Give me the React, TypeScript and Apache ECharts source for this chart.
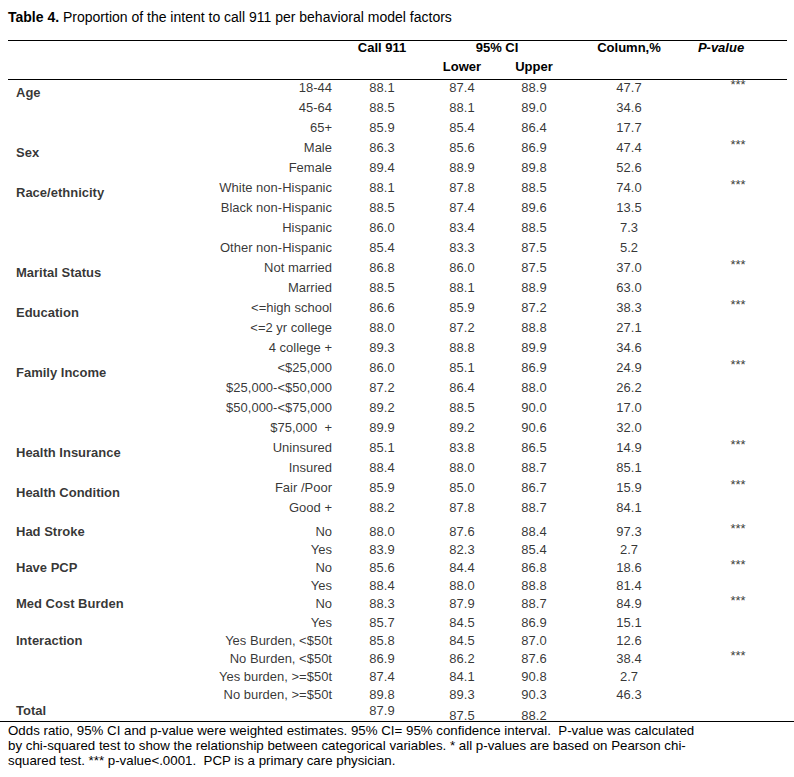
import React, { useEffect, useRef } from "react";
import * as echarts from "echarts";

// ---------- data ----------
const groupNames = ["Age", "Sex", "Race/ethnicity", "Marital Status", "Education", "Family Income", "Health Insurance", "Health Condition", "Had Stroke", "Have PCP", "Med Cost Burden", "Interaction"];
const groupFirstRow = [0, 3, 5, 9, 11, 14, 18, 20, 22, 24, 26, 28];
const levels = [
  "18-44", "45-64", "65+",
  "Male", "Female",
  "White non-Hispanic", "Black non-Hispanic", "Hispanic", "Other non-Hispanic",
  "Not married", "Married",
  "<=high school", "<=2 yr college", "4 college +",
  "<$25,000", "$25,000-<$50,000", "$50,000-<$75,000", "$75,000  +",
  "Uninsured", "Insured",
  "Fair /Poor", "Good +",
  "No", "Yes",
  "No", "Yes",
  "No", "Yes",
  "Yes Burden, <$50t", "No Burden, <$50t", "Yes burden, >=$50t", "No burden, >=$50t",
];
const call911 = [88.1, 88.5, 85.9, 86.3, 89.4, 88.1, 88.5, 86.0, 85.4, 86.8, 88.5, 86.6, 88.0, 89.3, 86.0, 87.2, 89.2, 89.9, 85.1, 88.4, 85.9, 88.2, 88.0, 83.9, 85.6, 88.4, 88.3, 85.7, 85.8, 86.9, 87.4, 89.8];
const ciLower = [87.4, 88.1, 85.4, 85.6, 88.9, 87.8, 87.4, 83.4, 83.3, 86.0, 88.1, 85.9, 87.2, 88.8, 85.1, 86.4, 88.5, 89.2, 83.8, 88.0, 85.0, 87.8, 87.6, 82.3, 84.4, 88.0, 87.9, 84.5, 84.5, 86.2, 84.1, 89.3];
const ciUpper = [88.9, 89.0, 86.4, 86.9, 89.8, 88.5, 89.6, 88.5, 87.5, 87.5, 88.9, 87.2, 88.8, 89.9, 86.9, 88.0, 90.0, 90.6, 86.5, 88.7, 86.7, 88.7, 88.4, 85.4, 86.8, 88.8, 88.7, 86.9, 87.0, 87.6, 90.8, 90.3];
const columnPct = [47.7, 34.6, 17.7, 47.4, 52.6, 74.0, 13.5, 7.3, 5.2, 37.0, 63.0, 38.3, 27.1, 34.6, 24.9, 26.2, 17.0, 32.0, 14.9, 85.1, 15.9, 84.1, 97.3, 2.7, 18.6, 81.4, 84.9, 15.1, 12.6, 38.4, 2.7, 46.3];
const pValueRows = [0, 3, 5, 9, 11, 14, 18, 20, 22, 24, 26, 29];
const pValueMark = "***";
const totalLabel = "Total";
const totalCall = 87.9;
const totalLower = 87.5;
const totalUpper = 88.2;

const titleBold = "Table 4.";
const titleText = " Proportion of the intent to call 911 per behavioral model factors";
const headerTop = ["Call 911", "95% CI", "Column,%", "P-value"];
const headerSub = ["Lower", "Upper"];
const footnotes = [
  "Odds ratio, 95% CI and p-value were weighted estimates. 95% CI= 95% confidence interval.  P-value was calculated",
  "by chi-squared test to show the relationship between categorical variables. * all p-values are based on Pearson chi-",
  "squared test. *** p-value<.0001.  PCP is a primary care physician.",
];

// ---------- layout ----------
const W = 794;
const H = 777;
const FONT = "'Liberation Sans', Arial, sans-serif";
const FS = 13;
const TITLE_FS = 14;
const FOOT_FS = 13.3;
const COL = { group: 16, level: 332, call: 382, lower: 462, upper: 534, pct: 629, p: 738 };
const SPLIT = 22; // first row of the tighter lower block
const TOTAL_ROW = levels.length;

function place(i: number) {
  return i < SPLIT ? { grid: 0, y: i } : { grid: 1, y: i - SPLIT };
}

type Cell = { row: number; text: string; dy?: number };

function makeSeries(name: string, x: number, cells: Cell[], align: string, bold = false): any[] {
  const out: any[] = [];
  for (let g = 0; g < 2; g++) {
    const data = cells
      .filter((c) => place(c.row).grid === g)
      .map((c) => ({
        value: [x, place(c.row).y, c.text],
        label: { offset: [0, c.dy || 0] },
      }));
    out.push({
      name: name + g,
      type: "scatter",
      xAxisIndex: g,
      yAxisIndex: g,
      symbolSize: 1,
      itemStyle: { color: "transparent" },
      silent: true,
      data,
      label: {
        show: true,
        position: "inside",
        align,
        verticalAlign: "middle",
        fontFamily: FONT,
        fontSize: FS,
        fontWeight: bold ? "bold" : "normal",
        color: "#000",
        formatter: (p: any) => p.value[2],
      },
    });
  }
  return out;
}

function numCells(arr: number[], total: number | null, totalDy: number): Cell[] {
  const cells: Cell[] = arr.map((v, i) => ({ row: i, text: v.toFixed(1) }));
  if (total !== null) cells.push({ row: TOTAL_ROW, text: total.toFixed(1), dy: totalDy });
  return cells;
}

function buildOption() {
  const groupCells: Cell[] = groupNames.map((g, k) => ({
    row: groupFirstRow[k],
    text: g,
    dy: groupFirstRow[k] < SPLIT ? 5 : 0,
  }));
  groupCells.push({ row: TOTAL_ROW, text: totalLabel, dy: -3 });
  const levelCells: Cell[] = levels.map((l, i) => ({ row: i, text: l }));
  const pCells: Cell[] = pValueRows.map((r) => ({ row: r, text: pValueMark, dy: -3 }));

  const series = [
    ...makeSeries("group", COL.group, groupCells, "left", true),
    ...makeSeries("level", COL.level, levelCells, "right"),
    ...makeSeries("call", COL.call, numCells(call911, totalCall, -3), "center"),
    ...makeSeries("lower", COL.lower, numCells(ciLower, totalLower, 2), "center"),
    ...makeSeries("upper", COL.upper, numCells(ciUpper, totalUpper, 2), "center"),
    ...makeSeries("pct", COL.pct, numCells(columnPct, null, 0), "center"),
    ...makeSeries("p", COL.p, pCells, "center"),
  ];

  const rowsA = Array.from({ length: SPLIT }, (_, i) => String(i));
  const rowsB = Array.from({ length: TOTAL_ROW + 1 - SPLIT }, (_, i) => String(i + SPLIT));
  const rowHA = 20;
  const rowHB = 18.22;

  const textStyle = (extra: any) => ({ fontFamily: FONT, fontSize: FS, fill: "#000", ...extra });

  const graphic: any[] = [
    {
      type: "text",
      x: 8,
      y: 17,
      style: textStyle({
        text: "{b|" + titleBold + "}" + titleText,
        fontSize: TITLE_FS,
        textVerticalAlign: "middle",
        rich: { b: { fontWeight: "bold", fontFamily: FONT, fontSize: TITLE_FS, fill: "#000" } },
      }),
    },
    { type: "line", shape: { x1: 8, y1: 40.5, x2: 787, y2: 40.5 }, style: { stroke: "#000", lineWidth: 1 } },
    { type: "line", shape: { x1: 8, y1: 79.5, x2: 787, y2: 79.5 }, style: { stroke: "#000", lineWidth: 1 } },
    { type: "line", shape: { x1: 0, y1: 721.5, x2: W, y2: 721.5 }, style: { stroke: "#000", lineWidth: 1 } },
    { type: "text", x: COL.call, y: 47, style: textStyle({ text: headerTop[0], fontWeight: "bold", textAlign: "center", textVerticalAlign: "middle" }) },
    { type: "text", x: 497, y: 47, style: textStyle({ text: headerTop[1], fontWeight: "bold", textAlign: "center", textVerticalAlign: "middle" }) },
    { type: "text", x: COL.pct, y: 47, style: textStyle({ text: headerTop[2], fontWeight: "bold", textAlign: "center", textVerticalAlign: "middle" }) },
    { type: "text", x: 721, y: 47, style: textStyle({ text: headerTop[3], fontWeight: "bold", fontStyle: "italic", textAlign: "center", textVerticalAlign: "middle" }) },
    { type: "text", x: COL.lower, y: 66, style: textStyle({ text: headerSub[0], fontWeight: "bold", textAlign: "center", textVerticalAlign: "middle" }) },
    { type: "text", x: COL.upper, y: 66, style: textStyle({ text: headerSub[1], fontWeight: "bold", textAlign: "center", textVerticalAlign: "middle" }) },
    ...footnotes.map((t, k) => ({
      type: "text",
      x: 8,
      y: 730 + k * 15,
      style: textStyle({ text: t, fontSize: FOOT_FS, textAlign: "left", textVerticalAlign: "middle" }),
    })),
  ];

  return {
    animation: false,
    backgroundColor: "#fff",
    grid: [
      { left: 0, width: W, top: 87 - rowHA / 2, height: rowHA * rowsA.length, containLabel: false },
      { left: 0, width: W, top: 531 - rowHB / 2, height: rowHB * rowsB.length, containLabel: false },
    ],
    xAxis: [
      { type: "value", gridIndex: 0, min: 0, max: W, show: false },
      { type: "value", gridIndex: 1, min: 0, max: W, show: false },
    ],
    yAxis: [
      { type: "category", gridIndex: 0, data: rowsA, inverse: true, show: false },
      { type: "category", gridIndex: 1, data: rowsB, inverse: true, show: false },
    ],
    series,
    graphic,
  };
}

export default function App() {
  const ref = useRef<HTMLDivElement>(null);
  useEffect(() => {
    if (!ref.current) return;
    const chart = echarts.init(ref.current, null, { renderer: "svg" });
    chart.setOption(buildOption() as any);
    return () => chart.dispose();
  }, []);
  return (
    <div
      ref={ref}
      style={{ position: "fixed", left: 0, top: 0, width: W, height: H, background: "#fff" }}
    />
  );
}
